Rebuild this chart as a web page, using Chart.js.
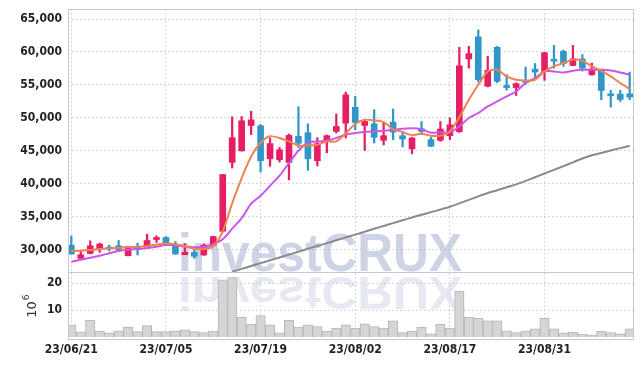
<!DOCTYPE html>
<html>
<head>
<meta charset="utf-8">
<script src="https://cdn.jsdelivr.net/npm/chart.js@4.4.0/dist/chart.umd.min.js"></script>
<style>
html, body { margin: 0; padding: 0; background: #fff; }
#wrap { width: 642px; height: 366px; }
</style>
</head>
<body>
<div id="wrap"><canvas id="chart"></canvas></div>
<script>
const dates = ['23/06/21','23/06/22','23/06/23','23/06/26','23/06/27','23/06/28','23/06/29','23/06/30','23/07/03','23/07/04',
  '23/07/05','23/07/06','23/07/07','23/07/10','23/07/11','23/07/12','23/07/13','23/07/14','23/07/17','23/07/18',
  '23/07/19','23/07/20','23/07/21','23/07/24','23/07/25','23/07/26','23/07/27','23/07/28','23/07/31','23/08/01',
  '23/08/02','23/08/03','23/08/04','23/08/07','23/08/08','23/08/09','23/08/10','23/08/11','23/08/14','23/08/16',
  '23/08/17','23/08/18','23/08/21','23/08/22','23/08/23','23/08/24','23/08/25','23/08/28','23/08/29','23/08/30',
  '23/08/31','23/09/01','23/09/04','23/09/05','23/09/06','23/09/07','23/09/08','23/09/11','23/09/12','23/09/13'];

const opens  = [30700,28680,29440,30100,30250,30600,29100,30250,30400,31550,
                31850,30850,29250,29600,29200,30650,32800,43250,45000,48850,
                48800,43800,43650,43250,47200,47750,43500,46400,47950,49200,
                51600,48850,49100,46600,49350,47300,45300,48350,46700,46600,
                47300,47900,58950,62300,54800,60700,54750,54600,55500,57400,
                57050,58750,60100,57950,58950,56550,57200,53500,53600,53650];
const highs  = [32100,29900,31350,31000,30700,31400,30550,31000,32350,32100,
                32000,31250,30900,30000,30900,32050,41400,50150,50200,51000,
                49000,46950,45520,47550,51700,49100,47000,47400,50600,53900,
                53250,49600,51250,49300,51350,47950,47050,49450,47050,49450,
                50000,60700,60850,63350,59350,60850,56550,55300,57700,58250,
                59950,61000,60300,61000,59600,58300,57250,54200,54200,56950];
const lows   = [29300,28650,29350,29600,29800,29850,29050,29200,30400,31100,
                30600,29300,29250,28700,29150,30600,32700,42400,44950,47450,
                41800,42650,43300,40600,45500,42050,42700,44700,47700,46950,
                48200,45050,46200,45900,46700,45600,44550,47450,45650,46450,
                46700,47800,57550,55450,54700,55350,54200,53400,55050,55900,
                55700,57550,57800,57900,57100,56450,52750,51650,52500,52750];
const closes = [29350,29240,30600,30860,30100,29950,30500,30050,31400,31650,
                30700,29350,29600,29000,30700,32000,41400,47000,49550,49700,
                43500,46100,45170,47350,46150,43800,46100,47300,48700,53500,
                49300,49450,47050,47300,47850,46800,46950,47950,45700,48300,
                48950,57900,59750,55800,57200,55550,54600,55200,55400,56950,
                59900,58600,58250,58950,57550,57400,54150,53350,52800,53150];

const ma5 = [29800,29850,29950,30100,30230,30300,30410,30450,30560,30760,
             30960,30830,30530,30150,30120,30530,32780,37080,40880,44150,
             46230,47220,46950,46430,45820,45820,45930,46430,46430,47700,
             49070,49720,49620,49370,48310,47860,47370,47600,47290,47290,
             47950,50100,52750,55030,57050,57300,56290,55790,55680,55790,
             57050,57810,58320,58820,58670,57810,57150,56290,55290,54380];
const ma20 = [28180,28480,28790,29090,29470,29800,30000,30100,30260,30450,
              30760,30680,30500,30380,30410,30830,31590,33190,34780,36980,
              38190,39710,41230,43150,45020,46190,46430,46530,46950,47450,
              47700,47850,47950,48050,48200,48360,48430,48280,47750,47820,
              47820,48700,49980,50740,51740,52500,53260,54010,55290,56050,
              57050,57050,56900,57150,57300,57300,57300,57200,56900,56550];
const ma120 = [null,null,null,null,null,null,null,null,null,null,
               null,null,null,null,null,null,null,26650,27090,27530,
               27970,28390,28830,29260,29700,30140,30560,31000,31430,31870,
               32290,32730,33170,33600,34040,34460,34900,35310,35700,36100,
               36520,37040,37570,38090,38600,39030,39480,39910,40440,41000,
               41560,42120,42680,43260,43840,44320,44680,45050,45410,45780];

// volume, millions of shares
const volumes = [4.5,1.9,6.3,2.2,1.5,2.3,3.7,2.0,4.2,2.0,
                 2.0,2.3,2.7,2.0,1.6,2.2,21.2,22.0,7.4,4.8,
                 7.9,4.5,1.5,6.3,3.7,4.5,3.9,2.2,3.3,4.5,
                 3.3,4.9,3.9,3.3,6.0,1.6,2.2,3.7,1.2,4.8,
                 3.3,17.0,7.4,7.0,6.0,6.0,2.3,1.6,2.3,3.0,
                 7.0,3.0,1.5,1.8,1.1,0.8,2.2,1.6,1.2,3.0];

const priceTicks = [30000,35000,40000,45000,50000,55000,60000,65000];
const volumeTicks = [10,20];
const dateTicks = [0,10,20,30,40,50];

const UP = '#e61e64';
const DOWN = '#3197c8';
const candleColors = closes.map((c, i) => c >= opens[i] ? UP : DOWN);

const tickFont = { family: "'DejaVu Sans Condensed', 'DejaVu Sans', sans-serif", size: 12, weight: 'bold' };
const gridColor = '#c6cbdc';

function pts(arr) { return arr.map((v, i) => ({ x: i, y: v })); }

function fitY(s) {
  s.width = 68;
  s.paddingTop = 0;
  s.paddingBottom = 0;
}

const decor = {
  id: 'decor',
  beforeDatasetsDraw(chart) {
    const ctx = chart.ctx;
    ctx.save();
    ctx.font = "bold 54px 'Liberation Sans', Arial, sans-serif";
    const w = ctx.measureText('investCRUX').width;
    ctx.translate(178, 271);
    ctx.scale(284 / w, 1);
    ctx.fillStyle = 'rgba(165,176,210,0.55)';
    ctx.fillText('investCRUX', 0, 0);
    ctx.translate(0, 6);
    ctx.scale(1, -0.85);
    ctx.fillStyle = 'rgba(200,206,226,0.45)';
    ctx.fillText('investCRUX', 0, 0);
    ctx.restore();
  },
  afterDraw(chart) {
    const ctx = chart.ctx;
    const a = chart.chartArea;
    const sep = chart.scales.y.bottom;
    ctx.save();
    ctx.strokeStyle = '#c8c8cc';
    ctx.lineWidth = 1;
    ctx.strokeRect(Math.round(a.left) + 0.5, Math.round(a.top) + 0.5, Math.round(a.right - a.left), Math.round(a.bottom - a.top) + 2);
    ctx.beginPath();
    ctx.moveTo(a.left, Math.round(sep) + 0.5);
    ctx.lineTo(a.right, Math.round(sep) + 0.5);
    ctx.stroke();
    // volume unit
    const yv = chart.scales.yv;
    ctx.translate(36, (yv.top + yv.bottom) / 2 + 2);
    ctx.rotate(-Math.PI / 2);
    ctx.fillStyle = '#333';
    ctx.textBaseline = 'alphabetic';
    ctx.font = "13px 'DejaVu Sans', sans-serif";
    const w10 = ctx.measureText('10').width;
    ctx.fillText('10', -w10 / 2 - 3, 0);
    ctx.font = "9px 'DejaVu Sans', sans-serif";
    ctx.fillText('6', w10 / 2 - 2, -7);
    ctx.restore();
  }
};

new Chart(document.getElementById('chart'), {
  type: 'bar',
  data: {
    datasets: [
      { type: 'line', data: pts(ma5), borderColor: '#f0824f', borderWidth: 2, pointRadius: 0, tension: 0.25, yAxisID: 'y', order: 1 },
      { type: 'line', data: pts(ma20), borderColor: '#cc55ea', borderWidth: 2, pointRadius: 0, tension: 0.25, yAxisID: 'y', order: 2 },
      { type: 'line', data: pts(ma120), borderColor: '#8a8a8a', borderWidth: 2, pointRadius: 0, tension: 0.25, yAxisID: 'y', order: 3 },
      { data: opens.map((o, i) => ({ x: i, y: [o, closes[i]] })), backgroundColor: candleColors, barThickness: 6, minBarLength: 2, grouped: false, yAxisID: 'y', order: 4 },
      { data: lows.map((l, i) => ({ x: i, y: [l, highs[i]] })), backgroundColor: candleColors, barThickness: 1.6, grouped: false, yAxisID: 'y', order: 5 },
      { data: pts(volumes), backgroundColor: '#d5d5d7', borderColor: '#b5b5b8', borderWidth: 1, barPercentage: 1, categoryPercentage: 1, grouped: false, yAxisID: 'yv', order: 6 }
    ]
  },
  options: {
    responsive: true,
    maintainAspectRatio: false,
    animation: false,
    layout: { padding: { top: 9, right: 9, left: 0, bottom: 0 } },
    plugins: { legend: { display: false }, tooltip: { enabled: false } },
    scales: {
      x: {
        type: 'linear',
        offset: false,
        min: -0.35,
        max: 59.35,
        afterBuildTicks: s => { s.ticks = dateTicks.map(v => ({ value: v })); },
        afterFit: s => { s.height = 29; },
        ticks: { callback: v => dates[v], font: tickFont, color: '#222', maxRotation: 0, autoSkip: false, padding: 6 },
        grid: { color: gridColor, drawTicks: false, offset: false },
        border: { display: false, dash: [1.5, 2.5] }
      },
      yv: {
        position: 'left',
        stack: 'panes',
        stackWeight: 65,
        min: 0,
        max: 24.1,
        afterBuildTicks: s => { s.ticks = volumeTicks.map(v => ({ value: v })); },
        afterFit: fitY,
        ticks: { font: tickFont, color: '#222', padding: 6, autoSkip: false },
        grid: { color: gridColor, drawTicks: false },
        border: { display: false, dash: [1.5, 2.5] }
      },
      y: {
        position: 'left',
        stack: 'panes',
        stackWeight: 263,
        min: 26620,
        max: 66520,
        afterBuildTicks: s => { s.ticks = priceTicks.map(v => ({ value: v })); },
        afterFit: fitY,
        ticks: { font: tickFont, color: '#222', padding: 6, autoSkip: false },
        grid: { color: gridColor, drawTicks: false },
        border: { display: false, dash: [1.5, 2.5] }
      }
    }
  },
  plugins: [decor]
});
</script>
</body>
</html>
